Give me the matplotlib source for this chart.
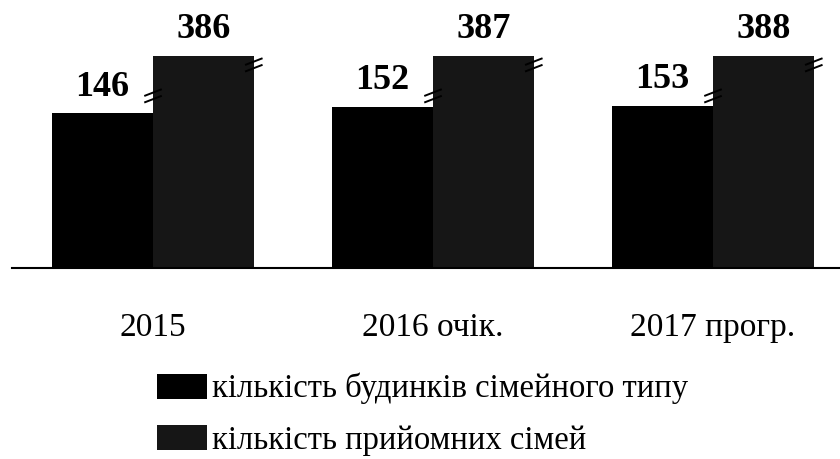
import numpy as np
import matplotlib
matplotlib.use("Agg")
import matplotlib.pyplot as plt
import matplotlib.transforms as mtransforms

plt.rcParams['font.family'] = ['Liberation Serif', 'DejaVu Serif']

# Data
years = ['2015', '2016 очік.', '2017 прогр.']
houses = [146, 152, 153]          # кількість будинків сімейного типу
foster = [386, 387, 388]          # кількість прийомних сімей
series_names = ['кількість будинків сімейного типу', 'кількість прийомних сімей']
colors = ['#000000', '#161616']

# broken value axis: below 160 linear, above 160 compressed
brk = 160
low_k = 1.06
high_k = 0.1876


def fwd(v):
    v = np.asarray(v, dtype=float)
    return np.where(v <= brk, v * low_k, brk * low_k + (v - brk) * high_k)


def inv(p):
    p = np.asarray(p, dtype=float)
    return np.where(p <= brk * low_k, p / low_k, brk + (p - brk * low_k) / high_k)


fig = plt.figure(figsize=(8.4, 4.59), dpi=100)
ax = fig.add_axes([12 / 840, 191 / 459, 828 / 840, 252 / 459])
ax.set_yscale('function', functions=(fwd, inv))

x = np.arange(len(years))
w = 0.36
b1 = ax.bar(x - w / 2, houses, w, color=colors[0], label=series_names[0])
b2 = ax.bar(x + w / 2, foster, w, color=colors[1], label=series_names[1])

ax.set_xlim(-0.5036, 2.4536)
ax.set_ylim(0, 600)

for bars, vals in [(b1, houses), (b2, foster)]:
    for rect, v in zip(bars, vals):
        ax.annotate(str(v), (rect.get_x() + rect.get_width() / 2, v),
                    xytext=(0, 7), textcoords='offset points',
                    ha='center', va='bottom', fontsize=26, fontweight='bold')

# break marks on the edges of the tall bars
tr = mtransforms.blended_transform_factory(ax.transData, ax.transAxes)
for rect in b2:
    for edge, yc in [(rect.get_x(), 0.683), (rect.get_x() + rect.get_width(), 0.806)]:
        for s in (-0.013, 0.013):
            ax.plot([edge - 0.028, edge + 0.028], [yc - 0.012 + s, yc + 0.012 + s],
                    color='black', lw=1.4, transform=tr, clip_on=False)

for side in ['top', 'right', 'left']:
    ax.spines[side].set_visible(False)
ax.spines['bottom'].set_linewidth(1.5)
ax.set_yticks([])
ax.set_xticks(x)
ax.set_xticklabels(years, fontsize=24)
ax.tick_params(axis='x', length=0, pad=32)

ax.legend(loc='upper left', bbox_to_anchor=(157 / 840, 1 - 373 / 459),
          bbox_transform=fig.transFigure, frameon=False, fontsize=23.5,
          handlelength=1.53, handleheight=0.8, handletextpad=0.15,
          labelspacing=0.64, borderpad=0, borderaxespad=0)

fig.savefig('out.png', dpi=100)
